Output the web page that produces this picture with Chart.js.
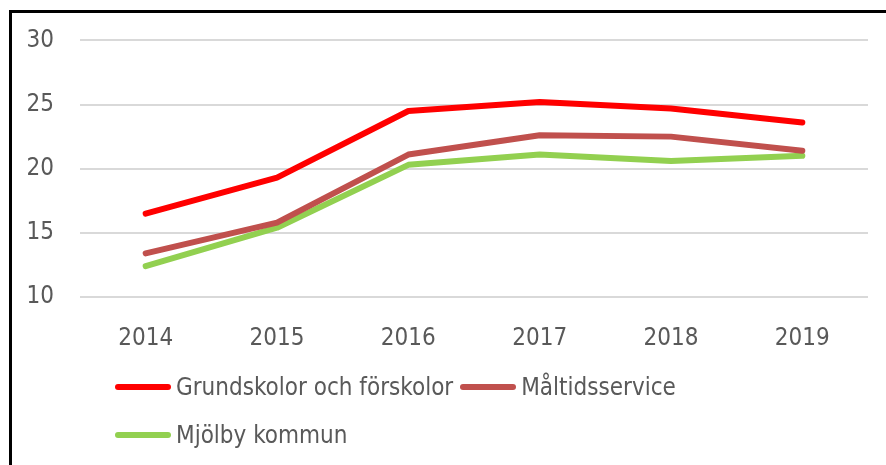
<!DOCTYPE html>
<html>
<head>
<meta charset="utf-8">
<script src="https://cdn.jsdelivr.net/npm/chart.js@4"></script>
<style>
  body { margin: 0; background: #fff; }
  #wrap { position: relative; width: 886px; height: 465px; }
  #frame { position: absolute; left: 9px; top: 10px; right: 0; bottom: 0;
           border-top: 3px solid #000; border-left: 3px solid #000; pointer-events: none; }
  #legend { position: absolute; left: 115px; top: 370px; width: 610px;
            display: flex; flex-wrap: wrap; row-gap: 14px; column-gap: 7px;
            font-family: "Liberation Sans Narrow", "DejaVu Sans Condensed", sans-serif;
            font-size: 24px; color: #595959; }
  .item { display: flex; align-items: center; height: 34px; }
  .swatch { width: 56px; height: 6px; border-radius: 3px; margin-right: 5px; }
</style>
</head>
<body>
<div id="wrap">
  <canvas id="grafico" width="886" height="465"></canvas>
  <div id="frame"></div>
  <div id="legend"></div>
</div>
<script>
var anios = ['2014', '2015', '2016', '2017', '2018', '2019'];
var grundskolor = [16.5, 19.3, 24.5, 25.2, 24.7, 23.6];
var maltidsservice = [13.4, 15.8, 21.1, 22.6, 22.5, 21.4];
var mjolby = [12.4, 15.4, 20.3, 21.1, 20.6, 21.0];

var fuente = { family: '"Liberation Sans Narrow", "DejaVu Sans Condensed", sans-serif', size: 24 };

function serie(nombre, datos, color) {
  return {
    label: nombre,
    data: datos,
    borderColor: color,
    backgroundColor: color,
    borderWidth: 6,
    borderCapStyle: 'round',
    borderJoinStyle: 'round',
    pointRadius: 0,
    tension: 0
  };
}

var ctx = document.getElementById('grafico').getContext('2d');
var grafico = new Chart(ctx, {
  type: 'line',
  data: {
    labels: anios,
    datasets: [
      serie('Grundskolor och förskolor', grundskolor, '#ff0000'),
      serie('Måltidsservice', maltidsservice, '#c0504d'),
      serie('Mjölby kommun', mjolby, '#92d050')
    ]
  },
  options: {
    responsive: false,
    animation: false,
    layout: { padding: { left: 0, right: 18, top: 40, bottom: 108 } },
    plugins: { legend: { display: false }, tooltip: { enabled: false } },
    scales: {
      x: {
        offset: true,
        grid: { display: false },
        border: { display: false },
        ticks: { color: '#595959', font: fuente, padding: 19, maxRotation: 0 },
        afterFit: function (s) { s.height = 60; }
      },
      y: {
        min: 10,
        max: 30,
        grid: { color: '#d9d9d9', lineWidth: 2, drawTicks: false },
        border: { display: false },
        ticks: { stepSize: 5, color: '#595959', font: fuente, padding: 26 },
        afterFit: function (s) { s.width = 80; }
      }
    }
  }
});

// leyenda en HTML, a partir de los datasets
var leyenda = document.getElementById('legend');
grafico.data.datasets.forEach(function (ds) {
  var item = document.createElement('div');
  item.className = 'item';
  var linea = document.createElement('span');
  linea.className = 'swatch';
  linea.style.background = ds.borderColor;
  var texto = document.createElement('span');
  texto.textContent = ds.label;
  item.appendChild(linea);
  item.appendChild(texto);
  leyenda.appendChild(item);
});
</script>
</body>
</html>
